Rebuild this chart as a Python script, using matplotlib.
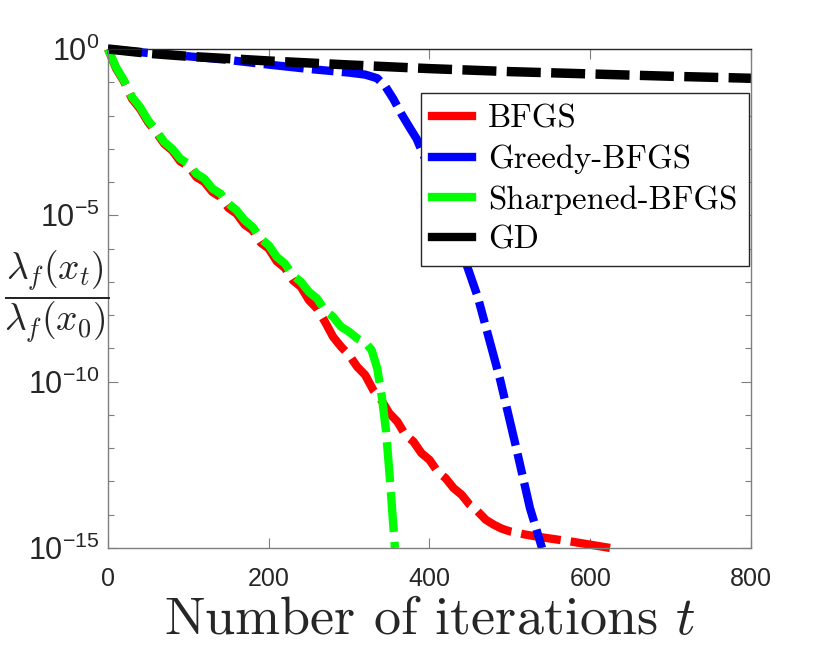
import numpy as np
import matplotlib
matplotlib.use("Agg")
from matplotlib import pyplot as plt
from matplotlib.lines import Line2D

plt.rcParams['mathtext.fontset'] = 'cm'
plt.rcParams['axes.unicode_minus'] = False

# iterations and log10 of lambda_f(x_t)/lambda_f(x_0)
t_bfgs = [0, 10, 20, 30, 40, 50, 60, 70, 80, 90, 100, 110, 120, 130, 140, 150,
          160, 170, 180, 190, 200, 210, 220, 230, 240, 250, 260, 270, 280, 290,
          300, 310, 320, 330, 340, 350, 360, 370, 380, 390, 400, 410, 420, 430,
          440, 450, 460, 470, 480, 490, 500, 520, 540, 560, 580, 600, 625]
e_bfgs = [0, -0.58, -0.98, -1.5, -1.8, -2.2, -2.5, -2.85, -3.05, -3.38, -3.52,
          -3.85, -4.0, -4.3, -4.45, -4.78, -4.95, -5.28, -5.45, -5.82, -6.0,
          -6.38, -6.58, -6.95, -7.15, -7.55, -7.8, -8.2, -8.65, -8.95, -9.2,
          -9.55, -9.8, -10.25, -10.55, -10.95, -11.2, -11.6, -11.8, -12.15,
          -12.35, -12.7, -12.9, -13.2, -13.4, -13.7, -13.9, -14.15, -14.3,
          -14.42, -14.5, -14.6, -14.68, -14.75, -14.82, -14.9, -15.0]

t_greedy = [0, 50, 100, 150, 200, 250, 300, 320, 335, 345, 355, 365, 375, 384,
            400, 420, 450, 460, 488, 508, 525, 540]
e_greedy = [0, -0.12, -0.22, -0.33, -0.47, -0.6, -0.71, -0.77, -0.88, -1.12,
            -1.5, -1.95, -2.35, -2.7, -3.6, -4.7, -6.75, -7.45, -9.95, -12.0,
            -13.8, -15.0]

t_sharp = [0, 10, 20, 30, 40, 50, 60, 70, 80, 90, 100, 110, 120, 130, 140, 150,
           160, 170, 180, 190, 200, 210, 220, 230, 240, 250, 260, 270, 280, 290,
           300, 310, 320, 328, 335, 341, 346, 351, 357]
e_sharp = [0, -0.55, -0.95, -1.45, -1.75, -2.15, -2.45, -2.8, -3.0, -3.3, -3.45,
           -3.75, -3.9, -4.2, -4.35, -4.65, -4.85, -5.15, -5.35, -5.7, -5.9,
           -6.25, -6.45, -6.8, -7.0, -7.3, -7.5, -7.85, -8.05, -8.35, -8.5,
           -8.7, -8.82, -9.05, -9.6, -10.5, -11.5, -13.0, -15.0]

t_gd = [0, 50, 100, 200, 300, 400, 500, 600, 700, 800]
e_gd = [0, -0.13, -0.22, -0.36, -0.48, -0.59, -0.68, -0.75, -0.82, -0.88]

names = ['BFGS', 'Greedy-BFGS', 'Sharpened-BFGS', 'GD']
colors = ['#ff0000', '#0000ff', '#00ff00', '#000000']

xticks = [0, 200, 400, 600, 800]
yticks = [1e-15, 1e-10, 1e-5, 1e0]
ytick_labels = [r'$\mathregular{10^{-15}}$', r'$\mathregular{10^{-10}}$',
                r'$\mathregular{10^{-5}}$', r'$\mathregular{10^{0}}$']

fig = plt.figure(figsize=(8.3, 6.62), dpi=100)
ax = fig.add_axes([0.1301, 0.1722, 0.7747, 0.7538])

lw = 6
series = [(t_bfgs, e_bfgs, (4.8, 1.2), lw),
          (t_greedy, e_greedy, (4.8, 1.0, 2.6, 1.0), lw),
          (t_sharp, e_sharp, (4.8, 1.2), lw),
          (t_gd, e_gd, (3.6, 1.1), 6.8)]
for (t, e, dash, w), c in zip(series, colors):
    ax.plot(t, 10.0 ** np.array(e), color=c, lw=w, dashes=dash,
            solid_capstyle='butt', dash_capstyle='butt', clip_on=False)

ax.set_yscale('log')
ax.set_xlim(0, 800)
ax.set_ylim(1e-15, 1)
ax.set_xticks(xticks)
ax.set_xticklabels([str(v) for v in xticks], family='Liberation Sans',
                   fontsize=18, color='#262626')
ax.set_yticks(yticks)
ax.set_yticklabels(ytick_labels, family='Liberation Sans', fontsize=22,
                   color='#262626')
ax.set_yticks([10.0 ** -k for k in range(16) if k % 5 != 0], minor=True)
ax.yaxis.set_minor_formatter(matplotlib.ticker.NullFormatter())
ax.xaxis.set_minor_locator(matplotlib.ticker.NullLocator())

ax.tick_params(which='both', direction='in', top=True, right=True,
               color='#7f7f7f', width=0.8)
ax.tick_params(which='major', length=7)
ax.tick_params(which='minor', length=4)
ax.tick_params(axis='x', pad=14)
ax.tick_params(axis='y', pad=6)
for s in ax.spines.values():
    s.set_color('#7f7f7f')
    s.set_linewidth(1.0)
ax.spines['top'].set_color('#262626')

ax.set_xlabel(r'Number of iterations $t$', family='cmr10', fontsize=39,
              color='#262626', labelpad=4)
fig.text(0.068, 0.551, r'$\dfrac{\lambda_f(x_t)}{\lambda_f(x_0)}$',
         fontsize=27, ha='center', va='center', color='#262626')

handles = [Line2D([], [], color=c, lw=lw) for c in colors]
leg = ax.legend(handles, names, loc='upper right',
                bbox_to_anchor=(0.997, 0.912), borderaxespad=0,
                prop={'family': 'cmr10', 'size': 23.6}, fancybox=False,
                framealpha=1, edgecolor='#262626', handlelength=1.2,
                handletextpad=0.5, labelspacing=0.34, borderpad=0.35)
leg.get_frame().set_linewidth(1.0)

fig.savefig('out.png', dpi=100)
